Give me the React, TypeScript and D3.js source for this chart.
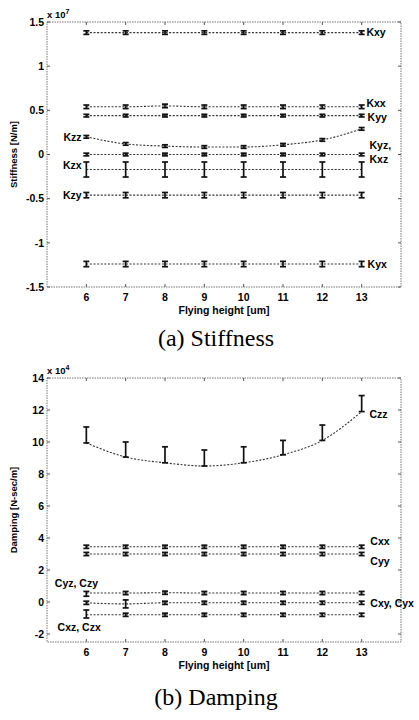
import React from "react";
import * as d3 from "d3";

// flying height [um]
const heights = [6, 7, 8, 9, 10, 11, 12, 13];

// stiffness, x 10^7 N/m
const kxy = [1.38, 1.38, 1.38, 1.38, 1.38, 1.38, 1.38, 1.38];
const kxx = [0.54, 0.54, 0.55, 0.54, 0.54, 0.54, 0.54, 0.54];
const kyy = [0.44, 0.44, 0.44, 0.44, 0.44, 0.44, 0.44, 0.44];
const kzz = [0.2, 0.12, 0.095, 0.085, 0.085, 0.11, 0.165, 0.29];
const kyzKxz = [0.0, 0.0, 0.0, 0.0, 0.0, 0.0, 0.0, 0.0];
const kzx = [-0.17, -0.17, -0.17, -0.17, -0.17, -0.17, -0.17, -0.17];
const kzy = [-0.46, -0.46, -0.46, -0.46, -0.46, -0.46, -0.46, -0.46];
const kyx = [-1.24, -1.24, -1.24, -1.24, -1.24, -1.24, -1.24, -1.24];

// damping, x 10^4 N-sec/m
const czz = [9.94, 9.06, 8.7, 8.5, 8.7, 9.2, 10.1, 11.9];
const czzTop = [10.94, 10.0, 9.7, 9.5, 9.7, 10.1, 11.06, 12.9];
const cxx = [3.45, 3.45, 3.45, 3.45, 3.45, 3.45, 3.45, 3.45];
const cyy = [3.0, 3.0, 3.0, 3.0, 3.0, 3.0, 3.0, 3.0];
const cyzCzy = [0.56, 0.56, 0.58, 0.56, 0.56, 0.56, 0.56, 0.56];
const cxyCyx = [-0.05, -0.12, -0.05, -0.05, -0.05, -0.05, -0.05, -0.05];
const cxzCzx = [-0.8, -0.8, -0.8, -0.8, -0.8, -0.8, -0.8, -0.8];

const stiffTicks = [-1.5, -1, -0.5, 0, 0.5, 1, 1.5];
const dampTicks = [-2, 0, 2, 4, 6, 8, 10, 12, 14];

type Series = { values: number[]; lo: number[]; hi: number[] };
type Label = { text: string; x: number; y: number; anchor: string };

const flat = (v: number[], e: number): Series => ({
  values: v,
  lo: v.map((d) => d - e),
  hi: v.map((d) => d + e),
});

const stiffSeries: Series[] = [
  flat(kxy, 0.02),
  flat(kxx, 0.02),
  flat(kyy, 0.015),
  flat(kzz, 0.015),
  flat(kyzKxz, 0.015),
  flat(kzx, 0.085),
  flat(kzy, 0.03),
  flat(kyx, 0.03),
];

const dampSeries: Series[] = [
  { values: czz, lo: czz, hi: czzTop },
  flat(cxx, 0.1),
  flat(cyy, 0.1),
  { values: cyzCzy, lo: cyzCzy.map((d, i) => d - (i === 0 ? 0.2 : 0.1)), hi: cyzCzy.map((d) => d + 0.1) },
  { values: cxyCyx, lo: cxyCyx.map((d, i) => d - (i === 1 ? 0.25 : 0.1)), hi: cxyCyx.map((d, i) => d + (i === 1 ? 0.25 : 0.1)) },
  { values: cxzCzx, lo: cxzCzx.map((d, i) => d - (i === 0 ? 0.2 : 0.1)), hi: cxzCzx.map((d, i) => d + (i === 0 ? 0.3 : 0.1)) },
];

const stiffLabels: Label[] = [
  { text: "Kxy", x: 13.12, y: 1.38, anchor: "start" },
  { text: "Kxx", x: 13.12, y: 0.58, anchor: "start" },
  { text: "Kyy", x: 13.15, y: 0.425, anchor: "start" },
  { text: "Kyz,", x: 13.2, y: 0.107, anchor: "start" },
  { text: "Kxz", x: 13.2, y: -0.05, anchor: "start" },
  { text: "Kyx", x: 13.15, y: -1.24, anchor: "start" },
  { text: "Kzz", x: 5.88, y: 0.2, anchor: "end" },
  { text: "Kzx", x: 5.88, y: -0.12, anchor: "end" },
  { text: "Kzy", x: 5.88, y: -0.46, anchor: "end" },
];

const dampLabels: Label[] = [
  { text: "Czz", x: 13.2, y: 11.7, anchor: "start" },
  { text: "Cxx", x: 13.22, y: 3.8, anchor: "start" },
  { text: "Cyy", x: 13.22, y: 2.56, anchor: "start" },
  { text: "Cxy, Cyx", x: 13.22, y: -0.06, anchor: "start" },
  { text: "Cyz, Czy", x: 5.2, y: 1.19, anchor: "start" },
  { text: "Cxz, Czx", x: 5.27, y: -1.6, anchor: "start" },
];

const FONT = "'Liberation Sans', Arial, sans-serif";

function Panel(props: {
  top: number;
  bottom: number;
  domain: [number, number];
  ticks: number[];
  series: Series[];
  labels: Label[];
  yTitle: string;
  exp: string;
  caption: string;
  captionY: number;
}) {
  const left = 47;
  const right = 401;
  const x = d3.scaleLinear().domain([5, 14]).range([left, right]);
  const y = d3.scaleLinear().domain(props.domain).range([props.bottom, props.top]);
  const line = d3
    .line<number>()
    .x((_, i) => x(heights[i]))
    .y((d) => y(d))
    .curve(d3.curveMonotoneX);
  const fmt = (v: number) => (v === 0 ? "0" : String(v));
  const midY = (props.top + props.bottom) / 2;

  return (
    <g>
      <rect
        x={left}
        y={props.top}
        width={right - left}
        height={props.bottom - props.top}
        fill="none"
        stroke="#777"
        strokeWidth={1}
        strokeDasharray="1.5,1"
      />
      {props.ticks.map((t) => (
        <g key={"y" + t}>
          <line x1={left} x2={left + 3} y1={y(t)} y2={y(t)} stroke="#555" />
          <line x1={right} x2={right - 3} y1={y(t)} y2={y(t)} stroke="#555" />
          <text
            x={left - 3}
            y={y(t)}
            dy="0.35em"
            textAnchor="end"
            fontSize={10.5}
            fontWeight="bold"
            fontFamily={FONT}
          >
            {fmt(t)}
          </text>
        </g>
      ))}
      {heights.map((h) => (
        <g key={"x" + h}>
          <line x1={x(h)} x2={x(h)} y1={props.bottom} y2={props.bottom - 3} stroke="#555" />
          <line x1={x(h)} x2={x(h)} y1={props.top} y2={props.top + 3} stroke="#555" />
          <text
            x={x(h)}
            y={props.bottom + 14}
            textAnchor="middle"
            fontSize={10.5}
            fontWeight="bold"
            fontFamily={FONT}
          >
            {h}
          </text>
        </g>
      ))}
      <text
        x={left}
        y={props.top - 4}
        fontSize={9.5}
        fontWeight="bold"
        fontFamily={FONT}
      >
        x 10
        <tspan dy={-4} fontSize={7}>
          {props.exp}
        </tspan>
      </text>
      <text
        x={224}
        y={props.bottom + 27}
        textAnchor="middle"
        fontSize={10.5}
        fontWeight="bold"
        fontFamily={FONT}
      >
        Flying height [um]
      </text>
      <text
        transform={`translate(17,${midY}) rotate(-90)`}
        textAnchor="middle"
        fontSize={9.5}
        fontWeight="bold"
        fontFamily={FONT}
      >
        {props.yTitle}
      </text>
      {props.series.map((s, si) => (
        <g key={"s" + si}>
          <path
            d={line(s.values) || ""}
            fill="none"
            stroke="#333"
            strokeWidth={1.1}
            strokeDasharray="2,1.6"
          />
          {s.values.map((v, i) => {
            const cx = x(heights[i]);
            const y1 = y(s.lo[i]);
            const y2 = y(s.hi[i]);
            return (
              <g key={i} stroke="#111" strokeWidth={1.7}>
                <line x1={cx} x2={cx} y1={y1} y2={y2} />
                <line x1={cx - 3} x2={cx + 3} y1={y1} y2={y1} />
                <line x1={cx - 3} x2={cx + 3} y1={y2} y2={y2} />
              </g>
            );
          })}
        </g>
      ))}
      {props.labels.map((l) => (
        <text
          key={l.text}
          x={x(l.x)}
          y={y(l.y)}
          dy="0.35em"
          textAnchor={l.anchor}
          fontSize={10.5}
          fontWeight="bold"
          fontFamily={FONT}
        >
          {l.text}
        </text>
      ))}
      <text
        x={216}
        y={props.captionY}
        textAnchor="middle"
        fontSize={24}
        fontFamily="'Liberation Serif', 'Times New Roman', serif"
      >
        {props.caption}
      </text>
    </g>
  );
}

export default function App() {
  return (
    <svg
      width={419}
      height={720}
      style={{ position: "absolute", left: 0, top: 0, background: "#fff" }}
    >
      <Panel
        top={22}
        bottom={287}
        domain={[-1.5, 1.5]}
        ticks={stiffTicks}
        series={stiffSeries}
        labels={stiffLabels}
        yTitle="Stiffness [N/m]"
        exp="7"
        caption="(a) Stiffness"
        captionY={346}
      />
      <Panel
        top={378}
        bottom={642}
        domain={[-2.5, 14]}
        ticks={dampTicks}
        series={dampSeries}
        labels={dampLabels}
        yTitle="Damping [N-sec/m]"
        exp="4"
        caption="(b) Damping"
        captionY={705}
      />
    </svg>
  );
}
